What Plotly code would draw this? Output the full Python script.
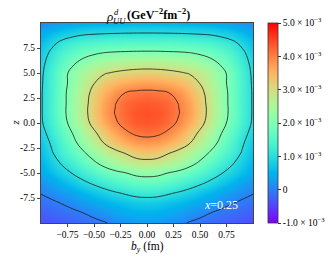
import math
import plotly.graph_objects as go

# transverse position b_y (fm) and longitudinal coordinate z
b_vals = [-1.0, -0.9, -0.8, -0.7, -0.6, -0.5, -0.4, -0.3, -0.2, -0.1, 0.0,
          0.1, 0.2, 0.3, 0.4, 0.5, 0.6, 0.7, 0.8, 0.9, 1.0]
z_vals = list(range(-10, 11))

# rho^d_UU in units of 1e-3 GeV^-2 fm^-2 ; one row per z value (from -10 to 10)
rho_rows = [
    [-0.38, -0.34, -0.30, -0.25, -0.18, -0.11, -0.03, 0.08, 0.17, 0.23, 0.25, 0.23, 0.17, 0.08, -0.03, -0.11, -0.18, -0.25, -0.30, -0.34, -0.38],  # z=-10
    [-0.28, -0.22, -0.16, -0.09, 0.00, 0.11, 0.22, 0.32, 0.40, 0.46, 0.48, 0.46, 0.40, 0.32, 0.22, 0.11, 0.00, -0.09, -0.16, -0.22, -0.28],     # z=-9
    [-0.14, -0.07, 0.02, 0.13, 0.25, 0.36, 0.47, 0.57, 0.66, 0.73, 0.75, 0.73, 0.66, 0.57, 0.47, 0.36, 0.25, 0.13, 0.02, -0.07, -0.14],         # z=-8
    [0.02, 0.12, 0.24, 0.37, 0.52, 0.67, 0.82, 0.95, 1.06, 1.165, 1.20, 1.165, 1.06, 0.95, 0.82, 0.67, 0.52, 0.37, 0.24, 0.12, 0.02],          # z=-7
    [0.17, 0.33, 0.52, 0.71, 0.90, 1.08, 1.25, 1.41, 1.55, 1.64, 1.67, 1.64, 1.55, 1.41, 1.25, 1.08, 0.90, 0.71, 0.52, 0.33, 0.17],            # z=-6
    [0.38, 0.60, 0.82, 1.03, 1.25, 1.48, 1.70, 1.86, 1.99, 2.15, 2.20, 2.15, 1.99, 1.86, 1.70, 1.48, 1.25, 1.03, 0.82, 0.60, 0.38],            # z=-5
    [0.50, 0.78, 1.06, 1.32, 1.60, 1.91, 2.20, 2.46, 2.66, 2.78, 2.82, 2.78, 2.66, 2.46, 2.20, 1.91, 1.60, 1.32, 1.06, 0.78, 0.50],            # z=-4
    [0.60, 0.95, 1.30, 1.60, 1.93, 2.28, 2.60, 2.83, 3.03, 3.25, 3.32, 3.25, 3.03, 2.83, 2.60, 2.28, 1.93, 1.60, 1.30, 0.95, 0.60],            # z=-3
    [0.70, 1.06, 1.43, 1.84, 2.25, 2.66, 3.03, 3.34, 3.58, 3.73, 3.78, 3.73, 3.58, 3.34, 3.03, 2.66, 2.25, 1.84, 1.43, 1.06, 0.70],            # z=-2
    [0.82, 1.20, 1.60, 2.02, 2.45, 2.90, 3.30, 3.65, 3.92, 4.09, 4.15, 4.09, 3.92, 3.65, 3.30, 2.90, 2.45, 2.02, 1.60, 1.20, 0.82],            # z=-1
    [0.93, 1.33, 1.76, 2.23, 2.72, 3.19, 3.62, 3.93, 4.17, 4.315, 4.36, 4.315, 4.17, 3.93, 3.62, 3.19, 2.72, 2.23, 1.76, 1.33, 0.93],          # z=0
    [0.95, 1.38, 1.83, 2.31, 2.80, 3.29, 3.73, 4.02, 4.24, 4.36, 4.40, 4.36, 4.24, 4.02, 3.73, 3.29, 2.80, 2.31, 1.83, 1.38, 0.95],            # z=1
    [0.95, 1.38, 1.82, 2.30, 2.78, 3.26, 3.70, 3.98, 4.20, 4.29, 4.32, 4.29, 4.20, 3.98, 3.70, 3.26, 2.78, 2.30, 1.82, 1.38, 0.95],            # z=2
    [0.95, 1.38, 1.82, 2.29, 2.75, 3.17, 3.55, 3.82, 4.02, 4.095, 4.12, 4.095, 4.02, 3.82, 3.55, 3.17, 2.75, 2.29, 1.82, 1.38, 0.95],          # z=3
    [0.93, 1.37, 1.80, 2.20, 2.60, 2.98, 3.30, 3.47, 3.60, 3.675, 3.70, 3.675, 3.60, 3.47, 3.30, 2.98, 2.60, 2.20, 1.80, 1.37, 0.93],          # z=4
    [0.90, 1.36, 1.80, 2.17, 2.50, 2.77, 2.96, 3.06, 3.13, 3.18, 3.20, 3.18, 3.13, 3.06, 2.96, 2.77, 2.50, 2.17, 1.80, 1.36, 0.90],            # z=5
    [0.85, 1.24, 1.60, 1.92, 2.18, 2.36, 2.50, 2.60, 2.66, 2.69, 2.70, 2.69, 2.66, 2.60, 2.50, 2.36, 2.18, 1.92, 1.60, 1.24, 0.85],            # z=6
    [0.75, 1.10, 1.40, 1.62, 1.80, 1.93, 2.02, 2.06, 2.08, 2.095, 2.10, 2.095, 2.08, 2.06, 2.02, 1.93, 1.80, 1.62, 1.40, 1.10, 0.75],          # z=7
    [0.60, 0.88, 1.12, 1.28, 1.40, 1.46, 1.50, 1.525, 1.54, 1.548, 1.55, 1.548, 1.54, 1.525, 1.50, 1.46, 1.40, 1.28, 1.12, 0.88, 0.60],        # z=8
    [0.40, 0.58, 0.72, 0.82, 0.90, 0.935, 0.96, 0.978, 0.99, 0.997, 1.00, 0.997, 0.99, 0.978, 0.96, 0.935, 0.90, 0.82, 0.72, 0.58, 0.40],      # z=9
    [0.10, 0.195, 0.28, 0.345, 0.40, 0.435, 0.46, 0.48, 0.49, 0.50, 0.50, 0.50, 0.49, 0.48, 0.46, 0.435, 0.40, 0.345, 0.28, 0.195, 0.10],      # z=10
]

cbar_vals = [-1, 0, 1, 2, 3, 4, 5]
cbar_text = ["-1.0 × 10<sup>−3</sup>", "0", "1.0 × 10<sup>−3</sup>", "2.0 × 10<sup>−3</sup>",
             "3.0 × 10<sup>−3</sup>", "4.0 × 10<sup>−3</sup>", "5.0 × 10<sup>−3</sup>"]
contour_levels = dict(start=0, end=4, size=1)

x_ticks = [-0.75, -0.5, -0.25, 0.0, 0.25, 0.5, 0.75]
x_ticktext = ["−0.75", "−0.50", "−0.25", "0.00", "0.25", "0.50", "0.75"]
y_ticks = [-7.5, -5.0, -2.5, 0.0, 2.5, 5.0, 7.5]
y_ticktext = ["-7.5", "-5.0", "-2.5", "0.0", "2.5", "5.0", "7.5"]

# matplotlib "rainbow" colormap (style)
def rainbow(t):
    r = min(1.0, abs(2 * t - 0.5))
    g = math.sin(math.pi * t)
    b = math.cos(math.pi * t / 2)
    return "rgb(%d,%d,%d)" % (round(r * 255), round(g * 255), round(max(b, 0) * 255))

cscale = [[i / 40, rainbow(i / 40)] for i in range(41)]

FONT = "Liberation Serif"

fig = go.Figure()
fig.add_trace(go.Heatmap(
    x=b_vals, y=z_vals, z=rho_rows, zmin=-1, zmax=5, zsmooth="best",
    colorscale=cscale, hoverinfo="skip",
    colorbar=dict(
        x=1.07, xanchor="left", xpad=0, y=0.5, yanchor="middle", ypad=0,
        len=1, lenmode="fraction", thickness=10,
        outlinewidth=0.8, outlinecolor="#333",
        tickvals=cbar_vals, ticktext=cbar_text, ticks="outside", ticklen=3,
        tickcolor="#333", tickfont=dict(family=FONT, size=9.5, color="black"),
    ),
))
fig.add_trace(go.Contour(
    x=b_vals, y=z_vals, z=rho_rows, contours=dict(coloring="none", **contour_levels),
    line=dict(color="#1a1a1a", width=0.8, smoothing=1.3), showscale=False, hoverinfo="skip",
))

fig.add_annotation(x=0.70, y=-8.2, xref="x", yref="y", text="<i>x</i>=0.25", showarrow=False,
                   font=dict(family=FONT, size=12, color="white"))

# title: rho with stacked d / UU indices
fig.add_annotation(x=0.297, y=1.035, xref="paper", yref="paper", xanchor="left", yanchor="middle",
                   text="<i>ρ</i>", showarrow=False, font=dict(family=FONT, size=13, color="black"))
fig.add_annotation(x=0.333, y=1.057, xref="paper", yref="paper", xanchor="left", yanchor="middle",
                   text="<i>d</i>", showarrow=False, font=dict(family=FONT, size=8.5, color="black"))
fig.add_annotation(x=0.330, y=1.012, xref="paper", yref="paper", xanchor="left", yanchor="middle",
                   text="<i>UU</i>", showarrow=False, font=dict(family=FONT, size=8.5, color="black"))
fig.add_annotation(x=0.396, y=1.040, xref="paper", yref="paper", xanchor="left", yanchor="middle",
                   text="<b>(GeV<sup>−2</sup>fm<sup>−2</sup>)</b>", showarrow=False,
                   font=dict(family=FONT, size=12, color="black"))

# axis titles
fig.add_annotation(x=0.5, y=-0.118, xref="paper", yref="paper", xanchor="center", yanchor="middle",
                   text="<i>b</i><sub><i>y</i></sub> (fm)", showarrow=False, borderpad=0,
                   font=dict(family=FONT, size=11.5, color="black"))
fig.add_annotation(x=-0.125, y=0.5, xref="paper", yref="paper", xanchor="center", yanchor="middle",
                   text="<i>z</i>", textangle=-90, showarrow=False, borderpad=0,
                   font=dict(family=FONT, size=11, color="black"))

# the page body has an 8px margin: size the figure so that it fits the 335x260 window
fig.update_layout(
    width=327, height=252, margin=dict(l=33, r=82, t=15, b=37, autoexpand=False),
    paper_bgcolor="white", plot_bgcolor="white",
    font=dict(family=FONT, size=10, color="black"),
    showlegend=False,
)
fig.update_xaxes(range=[-1, 1], tickvals=x_ticks, ticktext=x_ticktext, ticks="outside", ticklen=3,
                 tickangle=0, showline=True, mirror=True, linecolor="#444", linewidth=1,
                 showgrid=False, zeroline=False, automargin=False, tickfont=dict(family=FONT, size=9.5))
fig.update_yaxes(range=[-10, 10], tickvals=y_ticks, ticktext=y_ticktext, ticks="outside", ticklen=3,
                 showline=True, mirror=True, linecolor="#444", linewidth=1, showgrid=False, zeroline=False,
                 automargin=False, tickfont=dict(family=FONT, size=9.5))

fig.write_html("out.html")
